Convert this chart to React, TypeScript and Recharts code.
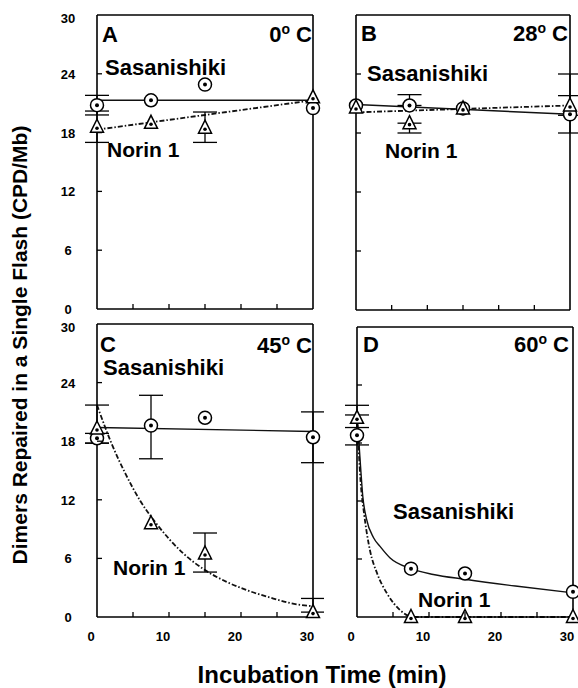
import React from "react";
import { ComposedChart, Line, Scatter, ErrorBar, XAxis, YAxis } from "recharts";

const FONT = '"Liberation Sans", Arial, Helvetica, sans-serif';

const times = [0, 7.5, 15, 30];
const xTicks = [0, 5, 10, 15, 20, 25, 30];
const yTicks = [0, 6, 12, 18, 24, 30];

// A: 0 C
const sasA = [20.8, 21.3, 22.9, 20.5];
const sasErrA = [[1, 1], null, null, null];
const norinA = [18.6, 19.0, 18.5, 21.6];
const norinErrA = [[1.6, 1.6], null, [1.5, 1.6], null];
const sasFitXA = [0, 30];
const sasFitA = [21.3, 21.3];
const norinFitXA = [0, 30];
const norinFitA = [18.3, 21.3];

// B: 28 C
const sasB = [20.8, 20.8, 20.5, 19.9];
const sasErrB = [null, [0, 1.1], null, [1.9, 1.9]];
const norinB = [20.6, 19.0, 20.5, 20.8];
const norinErrB = [null, [1, 0], null, [1, 3.2]];
const sasFitXB = [0, 30];
const sasFitB = [20.9, 19.9];
const norinFitXB = [0, 30];
const norinFitB = [20.1, 20.8];

// C: 45 C
const sasC = [18.3, 19.6, 20.4, 18.4];
const sasErrC = [[0.5, 0.5], [3.4, 3.1], null, [2.6, 2.6]];
const norinC = [19.3, 9.6, 6.5, 0.5];
const norinErrC = [[1.5, 2.4], null, [1.9, 2.1], [0, 1.4]];
const sasFitXC = [0, 30];
const sasFitC = [19.4, 19.0];
const norinFitXC = [0, 2, 4, 6, 8, 10, 12, 15, 18, 21, 24, 27, 30];
const norinFitC = [21.7, 17.8, 14.6, 11.9, 9.8, 8.0, 6.5, 4.8, 3.6, 2.7, 2.0, 1.4, 1.1];

// D: 60 C
const sasD = [18.8, 5.0, 4.5, 2.6];
const sasErrD = [[1.0, 2.1], null, null, null];
const norinD = [20.6, 0, 0, 0];
const norinErrD = [[1.0, 1.3], null, null, null];
const sasFitXD = [0, 0.5, 0.8, 1.3, 2.3, 3.2, 4.6, 7.5, 10.6, 15, 22, 30];
const sasFitD = [21, 15.5, 12.5, 10.2, 8.2, 7.3, 6.1, 5.0, 4.4, 3.9, 3.2, 2.5];
const norinFitXD = [0, 0.5, 1.0, 1.8, 2.8, 4.2, 6, 7.9, 15, 30];
const norinFitD = [21, 14, 10.6, 6.9, 4.5, 2.4, 0.7, 0, 0, 0];

const pts = (vals: number[], errs: any[]) =>
  times.map((t, i) => ({ t, v: vals[i], e: errs[i] ?? undefined }));
const fit = (xs: number[], ys: number[]) => xs.map((t, i) => ({ t, v: ys[i] }));

const Circ = (p: any) => (
  <g>
    <circle cx={p.cx} cy={p.cy} r={6.5} fill="#fff" stroke="#000" strokeWidth={1.5} />
    <circle cx={p.cx} cy={p.cy} r={2} fill="#000" />
  </g>
);

const Tri = (p: any) => (
  <g>
    <path
      d={`M${p.cx},${p.cy - 7.5} L${p.cx + 6.5},${p.cy + 5.5} L${p.cx - 6.5},${p.cy + 5.5} Z`}
      fill="#fff"
      stroke="#000"
      strokeWidth={1.5}
    />
    <circle cx={p.cx} cy={p.cy + 1.5} r={1.8} fill="#000" />
  </g>
);

function BottomTick({ x, y, payload, showLabel }: any) {
  const v = payload.value;
  return (
    <g>
      {v > 0 && v < 30 && <line x1={x} x2={x} y1={y} y2={y - 5} stroke="#000" strokeWidth={1.3} />}
      {showLabel && v % 10 === 0 && (
        <text x={x - 6} y={y + 24} textAnchor="middle" fontSize={13} fontWeight="bold" fontFamily={FONT} fill="#000">
          {v}
        </text>
      )}
    </g>
  );
}

function TopTick({ x, y, payload }: any) {
  const v = payload.value;
  if (v <= 0 || v >= 30) return <g />;
  return <line x1={x} x2={x} y1={y} y2={y + 5} stroke="#000" strokeWidth={1.3} />;
}

function LeftTick({ x, y, payload, showLabel }: any) {
  const v = payload.value;
  return (
    <g>
      {v > 0 && v < 30 && <line x1={x} x2={x + 5} y1={y} y2={y} stroke="#000" strokeWidth={1.3} />}
      {showLabel && (
        <text x={x - 29} y={y + (v === 30 ? 8 : 5)} textAnchor="middle" fontSize={13} fontWeight="bold" fontFamily={FONT} fill="#000">
          {v}
        </text>
      )}
    </g>
  );
}

function RightTick({ x, y, payload }: any) {
  const v = payload.value;
  if (v <= 0 || v >= 30) return <g />;
  return <line x1={x} x2={x - 5} y1={y} y2={y} stroke="#000" strokeWidth={1.3} />;
}

const axisLine = { stroke: "#000", strokeWidth: 1.6 };

function Panel(props: any) {
  const { left, top, w, h, showX, showY, sas, sasErr, norin, norinErr, sfx, sfy, nfx, nfy } = props;
  return (
    <div style={{ position: "absolute", left: left - 50, top: top - 10 }}>
      <ComposedChart width={w + 61} height={h + 41} margin={{ top: 9, right: 10, bottom: 30, left: 49 }}>
        <XAxis
          xAxisId="b"
          dataKey="t"
          type="number"
          domain={[0, 30]}
          ticks={xTicks}
          interval={0}
          height={1}
          tickSize={0}
          tickMargin={0}
          axisLine={axisLine}
          tickLine={false}
          tick={(p: any) => <BottomTick {...p} showLabel={showX} />}
        />
        <XAxis
          xAxisId="t"
          orientation="top"
          type="number"
          domain={[0, 30]}
          ticks={xTicks}
          interval={0}
          height={1}
          tickSize={0}
          tickMargin={0}
          axisLine={axisLine}
          tickLine={false}
          tick={(p: any) => <TopTick {...p} />}
        />
        <YAxis
          yAxisId="l"
          type="number"
          domain={[0, 30]}
          ticks={yTicks}
          interval={0}
          width={1}
          tickSize={0}
          tickMargin={0}
          axisLine={axisLine}
          tickLine={false}
          tick={(p: any) => <LeftTick {...p} showLabel={showY} />}
        />
        <YAxis
          yAxisId="r"
          orientation="right"
          type="number"
          domain={[0, 30]}
          ticks={yTicks}
          interval={0}
          width={1}
          tickSize={0}
          tickMargin={0}
          axisLine={axisLine}
          tickLine={false}
          tick={(p: any) => <RightTick {...p} />}
        />
        <Line
          xAxisId="b"
          yAxisId="l"
          data={fit(sfx, sfy)}
          dataKey="v"
          type="monotone"
          stroke="#111"
          strokeWidth={1.4}
          dot={false}
          isAnimationActive={false}
        />
        <Line
          xAxisId="b"
          yAxisId="l"
          data={fit(nfx, nfy)}
          dataKey="v"
          type="monotone"
          stroke="#111"
          strokeWidth={1.8}
          strokeDasharray="5 2 1.5 2"
          dot={false}
          isAnimationActive={false}
        />
        <Scatter
          xAxisId="b"
          yAxisId="l"
          data={pts(sas, sasErr)}
          dataKey="v"
          shape={(p: any) => <Circ {...p} />}
          isAnimationActive={false}
        >
          <ErrorBar dataKey="e" direction="y" width={12} stroke="#000" strokeWidth={1.3} isAnimationActive={false} />
        </Scatter>
        <Scatter
          xAxisId="b"
          yAxisId="l"
          data={pts(norin, norinErr)}
          dataKey="v"
          shape={(p: any) => <Tri {...p} />}
          isAnimationActive={false}
        >
          <ErrorBar dataKey="e" direction="y" width={12} stroke="#000" strokeWidth={1.3} isAnimationActive={false} />
        </Scatter>
      </ComposedChart>
    </div>
  );
}

const txt = { fontFamily: FONT, fontWeight: "bold" as const, fill: "#000" };

function Temp({ x, y, deg }: any) {
  return (
    <text x={x} y={y} textAnchor="end" fontSize={22} {...txt}>
      {deg}
      <tspan fontSize={14} dy={-8}>o</tspan>
      <tspan dy={8}> C</tspan>
    </text>
  );
}

export default function App() {
  return (
    <div style={{ position: "absolute", left: 0, top: 0, width: 578, height: 688, background: "#fff" }}>
      <Panel left={97} top={15} w={216} h={294} showX={false} showY={true}
        sas={sasA} sasErr={sasErrA} norin={norinA} norinErr={norinErrA}
        sfx={sasFitXA} sfy={sasFitA} nfx={norinFitXA} nfy={norinFitA} />
      <Panel left={356} top={15} w={214} h={295} showX={false} showY={false}
        sas={sasB} sasErr={sasErrB} norin={norinB} norinErr={norinErrB}
        sfx={sasFitXB} sfy={sasFitB} nfx={norinFitXB} nfy={norinFitB} />
      <Panel left={97} top={324} w={216} h={293} showX={true} showY={true}
        sas={sasC} sasErr={sasErrC} norin={norinC} norinErr={norinErrC}
        sfx={sasFitXC} sfy={sasFitC} nfx={norinFitXC} nfy={norinFitC} />
      <Panel left={357} top={327} w={216} h={290} showX={true} showY={false}
        sas={sasD} sasErr={sasErrD} norin={norinD} norinErr={norinErrD}
        sfx={sasFitXD} sfy={sasFitD} nfx={norinFitXD} nfy={norinFitD} />
      <svg width={578} height={688} style={{ position: "absolute", left: 0, top: 0, pointerEvents: "none" }}>
        <text x={102} y={42} fontSize={22} {...txt}>A</text>
        <Temp x={312} y={42} deg="0" />
        <text x={105} y={75} fontSize={22} {...txt}>Sasanishiki</text>
        <text x={107} y={157} fontSize={21} {...txt}>Norin 1</text>

        <text x={361} y={41} fontSize={22} {...txt}>B</text>
        <Temp x={568} y={41} deg="28" />
        <text x={367} y={81} fontSize={22} {...txt}>Sasanishiki</text>
        <text x={385} y={158} fontSize={21} {...txt}>Norin 1</text>

        <text x={100} y={352} fontSize={22} {...txt}>C</text>
        <Temp x={312} y={353} deg="45" />
        <text x={103} y={375} fontSize={22} {...txt}>Sasanishiki</text>
        <text x={113} y={575} fontSize={21} {...txt}>Norin 1</text>

        <text x={363} y={352} fontSize={22} {...txt}>D</text>
        <Temp x={569} y={352} deg="60" />
        <text x={393} y={519} fontSize={22} {...txt}>Sasanishiki</text>
        <text x={418} y={607} fontSize={21} {...txt}>Norin 1</text>

        <text
          x={0}
          y={0}
          transform="translate(27,345) rotate(-90)"
          textAnchor="middle"
          fontSize={21}
          {...txt}
        >
          Dimers Repaired in a Single Flash (CPD/Mb)
        </text>
        <text x={322} y={683} textAnchor="middle" fontSize={24} {...txt}>
          Incubation Time (min)
        </text>
      </svg>
    </div>
  );
}
